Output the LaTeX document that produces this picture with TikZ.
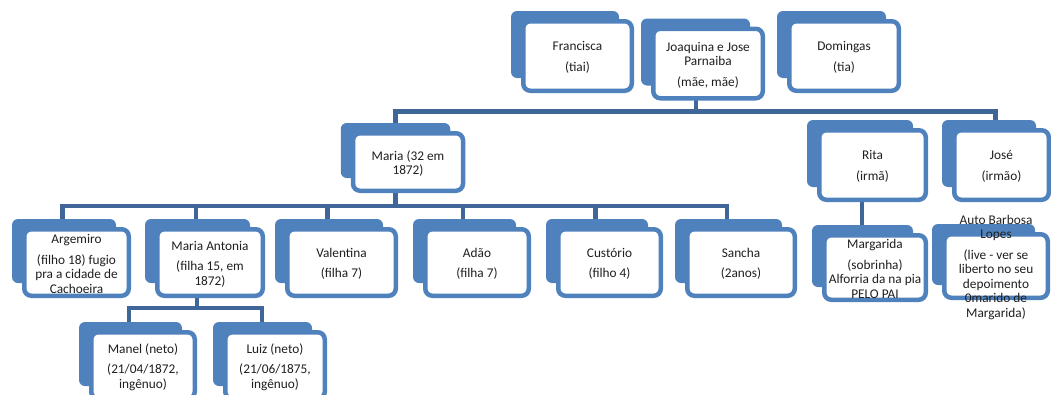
\documentclass[tikz,border=0pt]{standalone}
\usepackage{fontspec}
\setmainfont{Carlito}
\usetikzlibrary{calc}

\definecolor{boxblue}{RGB}{79,129,189}
\definecolor{linkblue}{RGB}{64,101,152}

\pgfdeclarelayer{links}
\pgfdeclarelayer{tabs}
\pgfsetlayers{links,tabs,main}

\tikzset{
  member/.style={draw=boxblue, line width=4.5pt, fill=white, rounded corners=7pt,
    inner sep=0pt, text=black!88, font=\fontsize{13.3pt}{14.5pt}\selectfont},
  link/.style={draw=linkblue, line width=4.5pt},
}

% name, x, y, width, height, text
\newcommand{\member}[6]{%
  \node[member, minimum width=#4pt, minimum height=#5pt] (#1) at (#2,#3)
    {\smash{\makebox[0pt]{\raisebox{-5pt}{\parbox[c]{150pt}{\centering #6}}}}};
  \begin{pgfonlayer}{tabs}
    \fill[boxblue, rounded corners=6pt] ([shift={(-10pt,8pt)}]#1.north west)
      rectangle ([shift={(-15pt,15pt)}]#1.south east);
  \end{pgfonlayer}
}

\begin{document}
\begin{tikzpicture}[x=1pt,y=-1pt]
    \useasboundingbox (0,0) rectangle (1051,394);

    % parents
    \member{francisca}{577.5}{56}{108.5}{69.5}{Francisca\\[6pt](tiai)}
    \member{joaquina}{708}{63.5}{109.5}{69.5}{Joaquina e Jose\\Parnaiba\\[6pt](mãe, mãe)}
    \member{domingas}{844}{56}{109.5}{69.5}{Domingas\\[6pt](tia)}

    % children
    \member{maria}{408}{162}{110}{57.5}{Maria (32 em\\1872)}
    \member{rita}{872.5}{165}{106.5}{69.5}{Rita\\[6pt](irmã)}
    \member{jose}{1001.5}{165}{94.5}{69.5}{José\\[6pt](irmão)}

    % grandchildren
    \member{argemiro}{76.5}{262.5}{104.5}{66.5}{Argemiro\\[6pt](filho 18) fugio\\pra a cidade de\\Cachoeira}
    \member{mariaant}{210}{262.5}{105.5}{66.5}{Maria Antonia\\[6pt](filha 15, em\\1872)}
    \member{valentina}{341.5}{262.5}{108.5}{66.5}{Valentina\\[6pt](filha 7)}
    \member{adao}{477}{262.5}{103.5}{66.5}{Adão\\[6pt](filha 7)}
    \member{custorio}{609.5}{262.5}{102.5}{66.5}{Custório\\[6pt](filho 4)}
    \member{sancha}{741}{262.5}{107.5}{66.5}{Sancha\\[6pt](2anos)}
    \member{margarida}{875}{267.5}{101.5}{64.5}{Margarida\\[6pt](sobrinha)\\Alforria da na pia\\PELO PAI}
    \member{auto}{996}{266}{103.5}{63.5}{Auto Barbosa\\Lopes\\[6pt](live - ver se\\liberto no seu\\depoimento\\0marido de\\Margarida)}

    % great-grandchildren
    \member{manel}{143}{365.5}{103.5}{66.5}{Manel (neto)\\[6pt](21/04/1872,\\ingênuo)}
    \member{luiz}{275}{365.5}{99.5}{66.5}{Luiz (neto)\\[6pt](21/06/1875,\\ingênuo)}

    \begin{pgfonlayer}{links}
        \coordinate (topbus) at ([xshift=-12pt,yshift=-11pt]joaquina.south);
        \draw[link] ([xshift=-12pt]joaquina.center) -- (topbus);
        \draw[link] ([xshift=-12.5pt]maria.center) |- (topbus) -| ([xshift=-6pt]jose.center);
        \draw[link] ([xshift=-10.5pt]rita.center) -- ([xshift=-10.5pt]rita.center |- margarida.center);

        \coordinate (kidbus) at ([xshift=-12.5pt,yshift=-13pt]maria.south);
        \draw[link] ([xshift=-12.5pt]maria.center) -- (kidbus);
        \draw[link] ([xshift=-14pt]argemiro.center) |- (kidbus) -| ([xshift=-14pt]sancha.center);
        \foreach \k in {mariaant,valentina,adao,custorio}
            \draw[link] ([xshift=-14pt]\k.center) -- ([xshift=-14pt]\k.center |- kidbus);

        \coordinate (netbus) at ([xshift=-13pt,yshift=-10pt]mariaant.south);
        \draw[link] ([xshift=-13pt]mariaant.center) -- (netbus);
        \draw[link] ([xshift=-14pt]manel.center) |- (netbus) -| ([xshift=-13pt]luiz.center);
    \end{pgfonlayer}
\end{tikzpicture}
\end{document}
